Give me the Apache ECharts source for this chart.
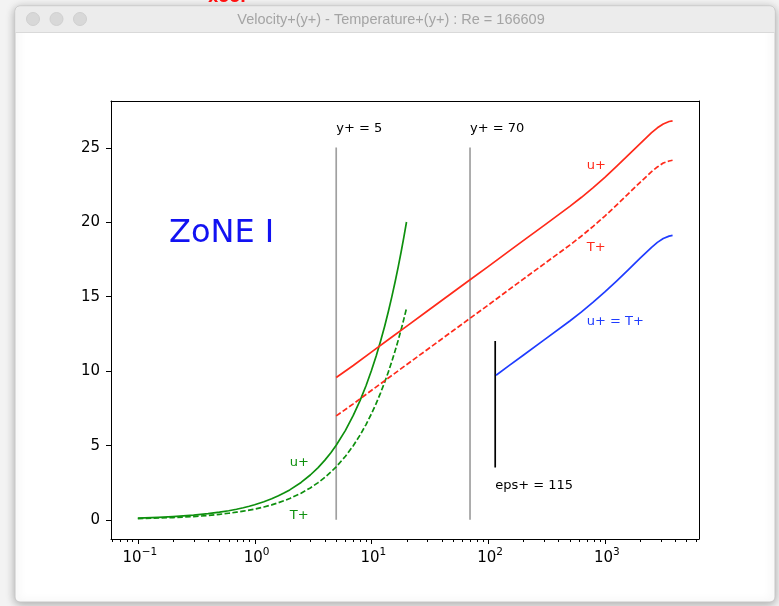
<!DOCTYPE html>
<html>
<head>
<meta charset="utf-8">
<script src="https://cdn.jsdelivr.net/npm/echarts@6/dist/echarts.min.js"></script>
<style>
html,body{margin:0;padding:0;background:#f3f3f3;}
#chart{width:779px;height:606px;}
</style>
</head>
<body>
<div id="chart"></div>
<script>
// ---------------- data ----------------
const GREEN_YP = [0.1,0.15,0.2,0.3,0.4,0.5,0.6,0.7,0.8,0.9,1,1.2,1.4,1.6,1.8,2,2.5,3,3.5,4,4.5,5,6,7,8,9,10,11,12,13,14,15,16,17,18,19,20];
const GREEN_U  = [0.1,0.15,0.2,0.3,0.4,0.5,0.6,0.7,0.8,0.9,1,1.2,1.4,1.6,1.8,2,2.5,3,3.5,4,4.5,5,6,7,8,9,10,11,12,13,14,15,16,17,18,19,20];
const GREEN_T  = [0.07,0.11,0.14,0.21,0.28,0.36,0.43,0.5,0.57,0.64,0.71,0.85,0.99,1.14,1.28,1.42,1.78,2.13,2.49,2.84,3.2,3.55,4.26,4.97,5.68,6.39,7.1,7.81,8.52,9.23,9.94,10.65,11.36,12.07,12.78,13.49,14.2];

const RED_YP = [5,7,10,15,20,30,50,70,100,150,200,300,501,631,794,1000,1259,1585,1995,2512,2818,3162,3548,3800];
const RED_U  = [9.55,10.36,11.26,12.27,12.99,14.0,15.28,16.12,17.0,18.03,18.75,19.76,21.05,21.66,22.31,23.0,23.73,24.49,25.25,26.0,26.33,26.59,26.75,26.8];
const RED_T  = [6.97,7.78,8.68,9.69,10.41,11.42,12.69,13.53,14.41,15.44,16.16,17.17,18.45,19.06,19.71,20.4,21.13,21.89,22.65,23.38,23.7,23.96,24.1,24.15];

const BLUE_YP = [117,150,200,300,501,631,794,1000,1259,1585,1995,2512,2818,3162,3548,3800];
const BLUE_U  = [9.7,10.33,11.05,12.06,13.35,13.96,14.61,15.3,16.03,16.79,17.55,18.3,18.63,18.89,19.05,19.1];

const VLINE_X = [5, 70];
const VLINE_Y = [0, 25];
const EPS_X = 115;
const EPS_Y = [3.5, 12];

const ANNOT_TEXT = ['y+ = 5','y+ = 70','eps+ = 115','u+','T+','u+','T+','u+ = T+'];
const ANNOT_X    = [5, 70, 115, 2, 2, 700, 700, 700];
const ANNOT_Y    = [26, 26, 2, 3.5, 0, 23.5, 18, 13];

const X_MAJOR = [0.1, 1, 10, 100, 1000];
const X_MAJOR_BASE = ['10','10','10','10','10'];
const X_MAJOR_EXP  = ['\u22121','0','1','2','3'];
const X_MINOR = [0.06,0.07,0.08,0.09,
  0.2,0.3,0.4,0.5,0.6,0.7,0.8,0.9,
  2,3,4,5,6,7,8,9,
  20,30,40,50,60,70,80,90,
  200,300,400,500,600,700,800,900,
  2000,3000,4000,5000,6000];
const Y_TICKS = [0,5,10,15,20,25];
const Y_TICK_LABELS = ['0','5','10','15','20','25'];

const X_MIN = 0.0589, X_MAX = 6400;
const Y_MIN = -1.3, Y_MAX = 28.13;

const TITLE = 'Velocity+(y+) - Temperature+(y+) : Re = 166609';

// ---------------- styles ----------------
const C_RED = '#ff2a1a', C_GREEN = '#0e900e', C_BLUE = '#1f3cff', C_GREY = '#a0a0a0';
const ANNOT_COLORS = ['#000','#000','#000',C_GREEN,C_GREEN,C_RED,C_RED,C_BLUE];
const FONT = '"DejaVu Sans"';
const LW = 1.7;

const zip = (a, b) => a.map((v, i) => [v, b[i]]);

function lineSeries(xs, ys, color, dashed) {
  return {
    type: 'line', data: zip(xs, ys), symbol: 'none', silent: true,
    lineStyle: { color: color, width: LW, type: dashed ? [5.5, 2.4] : 'solid', join: 'round' },
    z: 3
  };
}

const chart = echarts.init(document.getElementById('chart'));
const option = {
  animation: false,
  backgroundColor: 'transparent',
  grid: { left: 111, right: 80, top: 101, bottom: 67 },
  xAxis: [
    { type: 'log', logBase: 10, min: X_MIN, max: X_MAX,
      axisLine: { show: true, onZero: false, lineStyle: { color: '#000', width: 1 } },
      axisTick: { show: false }, axisLabel: { show: false }, splitLine: { show: false }, minorTick: { show: false } },
    { type: 'log', logBase: 10, min: X_MIN, max: X_MAX, position: 'top',
      axisLine: { show: true, onZero: false, lineStyle: { color: '#000', width: 1 } },
      axisTick: { show: false }, axisLabel: { show: false }, splitLine: { show: false } }
  ],
  yAxis: [
    { type: 'value', min: Y_MIN, max: Y_MAX,
      axisLine: { show: true, onZero: false, lineStyle: { color: '#000', width: 1 } },
      axisTick: { show: false }, axisLabel: { show: false }, splitLine: { show: false } },
    { type: 'value', min: Y_MIN, max: Y_MAX, position: 'right',
      axisLine: { show: true, onZero: false, lineStyle: { color: '#000', width: 1 } },
      axisTick: { show: false }, axisLabel: { show: false }, splitLine: { show: false } }
  ],
  graphic: [
    { type: 'rect', z: -10, shape: { x: 15, y: 6, width: 760, height: 596, r: 5 },
      style: { fill: '#ffffff', stroke: '#c6c6c6', lineWidth: 1, shadowBlur: 10, shadowColor: 'rgba(0,0,0,0.30)', shadowOffsetY: 2 } },
    { type: 'rect', z: -9, shape: { x: 15.5, y: 6.5, width: 759, height: 26, r: [5,5,0,0] },
      style: { fill: '#ececec' } },
    { type: 'line', z: -8, shape: { x1: 15.5, y1: 32.5, x2: 774.5, y2: 32.5 }, style: { stroke: '#d9d9d9', lineWidth: 1 } },
    { type: 'circle', z: -8, shape: { cx: 33, cy: 19, r: 6.5 }, style: { fill: '#d8d8d8', stroke: '#d0d0d0' } },
    { type: 'circle', z: -8, shape: { cx: 56.5, cy: 19, r: 6.5 }, style: { fill: '#d8d8d8', stroke: '#d0d0d0' } },
    { type: 'circle', z: -8, shape: { cx: 80, cy: 19, r: 6.5 }, style: { fill: '#d8d8d8', stroke: '#d0d0d0' } },
    { type: 'text', z: -7, x: 391, y: 19.5,
      style: { text: TITLE, fill: '#a4a4a4', font: '14.5px "Liberation Sans", Roboto, sans-serif', align: 'center', verticalAlign: 'middle' } },
    { type: 'text', z: 10, x: 208, y: -10,
      style: { text: 'xoor· ··', fill: '#ff1010', font: 'bold 16px ' + FONT, align: 'left', verticalAlign: 'top' } },
    { type: 'text', z: 10, x: 169, y: 234,
      style: { text: 'ZoNE I', fill: '#1212f2', font: '32px ' + FONT, align: 'left', verticalAlign: 'middle' } }
  ],
  series: [
    lineSeries(GREEN_YP, GREEN_U, C_GREEN, false),
    lineSeries(GREEN_YP, GREEN_T, C_GREEN, true),
    lineSeries(RED_YP, RED_U, C_RED, false),
    lineSeries(RED_YP, RED_T, C_RED, true),
    lineSeries(BLUE_YP, BLUE_U, C_BLUE, false),
    { type: 'line', data: zip([VLINE_X[0], VLINE_X[0]], VLINE_Y), symbol: 'none', silent: true,
      lineStyle: { color: C_GREY, width: LW }, z: 2 },
    { type: 'line', data: zip([VLINE_X[1], VLINE_X[1]], VLINE_Y), symbol: 'none', silent: true,
      lineStyle: { color: C_GREY, width: LW }, z: 2 },
    { type: 'line', data: zip([EPS_X, EPS_X], EPS_Y), symbol: 'none', silent: true,
      lineStyle: { color: '#000', width: LW }, z: 2 },
    // annotations
    { type: 'custom', coordinateSystem: 'cartesian2d', clip: false, silent: true, z: 4,
      data: zip(ANNOT_X, ANNOT_Y),
      renderItem: function (params, api) {
        const p = api.coord([api.value(0), api.value(1)]);
        const i = params.dataIndex;
        return { type: 'text', x: p[0], y: p[1] - 4.5,
          style: { text: ANNOT_TEXT[i], fill: ANNOT_COLORS[i], font: '13px ' + FONT, align: 'left', verticalAlign: 'middle' } };
      } },
    // x ticks + labels
    { type: 'custom', coordinateSystem: 'cartesian2d', clip: false, silent: true, z: 5,
      data: X_MAJOR.map(v => [v, Y_MIN, 1]).concat(X_MINOR.map(v => [v, Y_MIN, 0])),
      renderItem: function (params, api) {
        const p = api.coord([api.value(0), api.value(1)]);
        const major = api.value(2) === 1;
        const x = Math.round(p[0]) + 0.5, y = Math.round(p[1]);
        const children = [{ type: 'line', shape: { x1: x, y1: y, x2: x, y2: y + (major ? 5 : 3) }, style: { stroke: '#000', lineWidth: 1 } }];
        if (major) {
          const i = params.dataIndex;
          children.push({ type: 'text', x: p[0] + 2, y: y + 8,
            style: {
              text: '{b|' + X_MAJOR_BASE[i] + '}{s|' + X_MAJOR_EXP[i] + '}',
              fill: '#000', align: 'center', verticalAlign: 'top',
              rich: {
                b: { fontSize: 15, fontFamily: 'DejaVu Sans', lineHeight: 19, verticalAlign: 'bottom', fill: '#000' },
                s: { fontSize: 10.5, fontFamily: 'DejaVu Sans', lineHeight: 12, verticalAlign: 'top', fill: '#000' }
              }
            } });
        }
        return { type: 'group', children: children };
      } },
    // y ticks + labels
    { type: 'custom', coordinateSystem: 'cartesian2d', clip: false, silent: true, z: 5,
      data: Y_TICKS.map(v => [X_MIN, v]),
      renderItem: function (params, api) {
        const p = api.coord([api.value(0), api.value(1)]);
        const x = Math.round(p[0]), y = Math.round(p[1]) + 0.5;
        return { type: 'group', children: [
          { type: 'line', shape: { x1: x - 5, y1: y, x2: x, y2: y }, style: { stroke: '#000', lineWidth: 1 } },
          { type: 'text', x: x - 11, y: p[1] + 0.5,
            style: { text: Y_TICK_LABELS[params.dataIndex], fill: '#000', font: '15px ' + FONT, align: 'right', verticalAlign: 'middle' } }
        ] };
      } }
  ]
};
chart.setOption(option);
</script>
</body>
</html>
